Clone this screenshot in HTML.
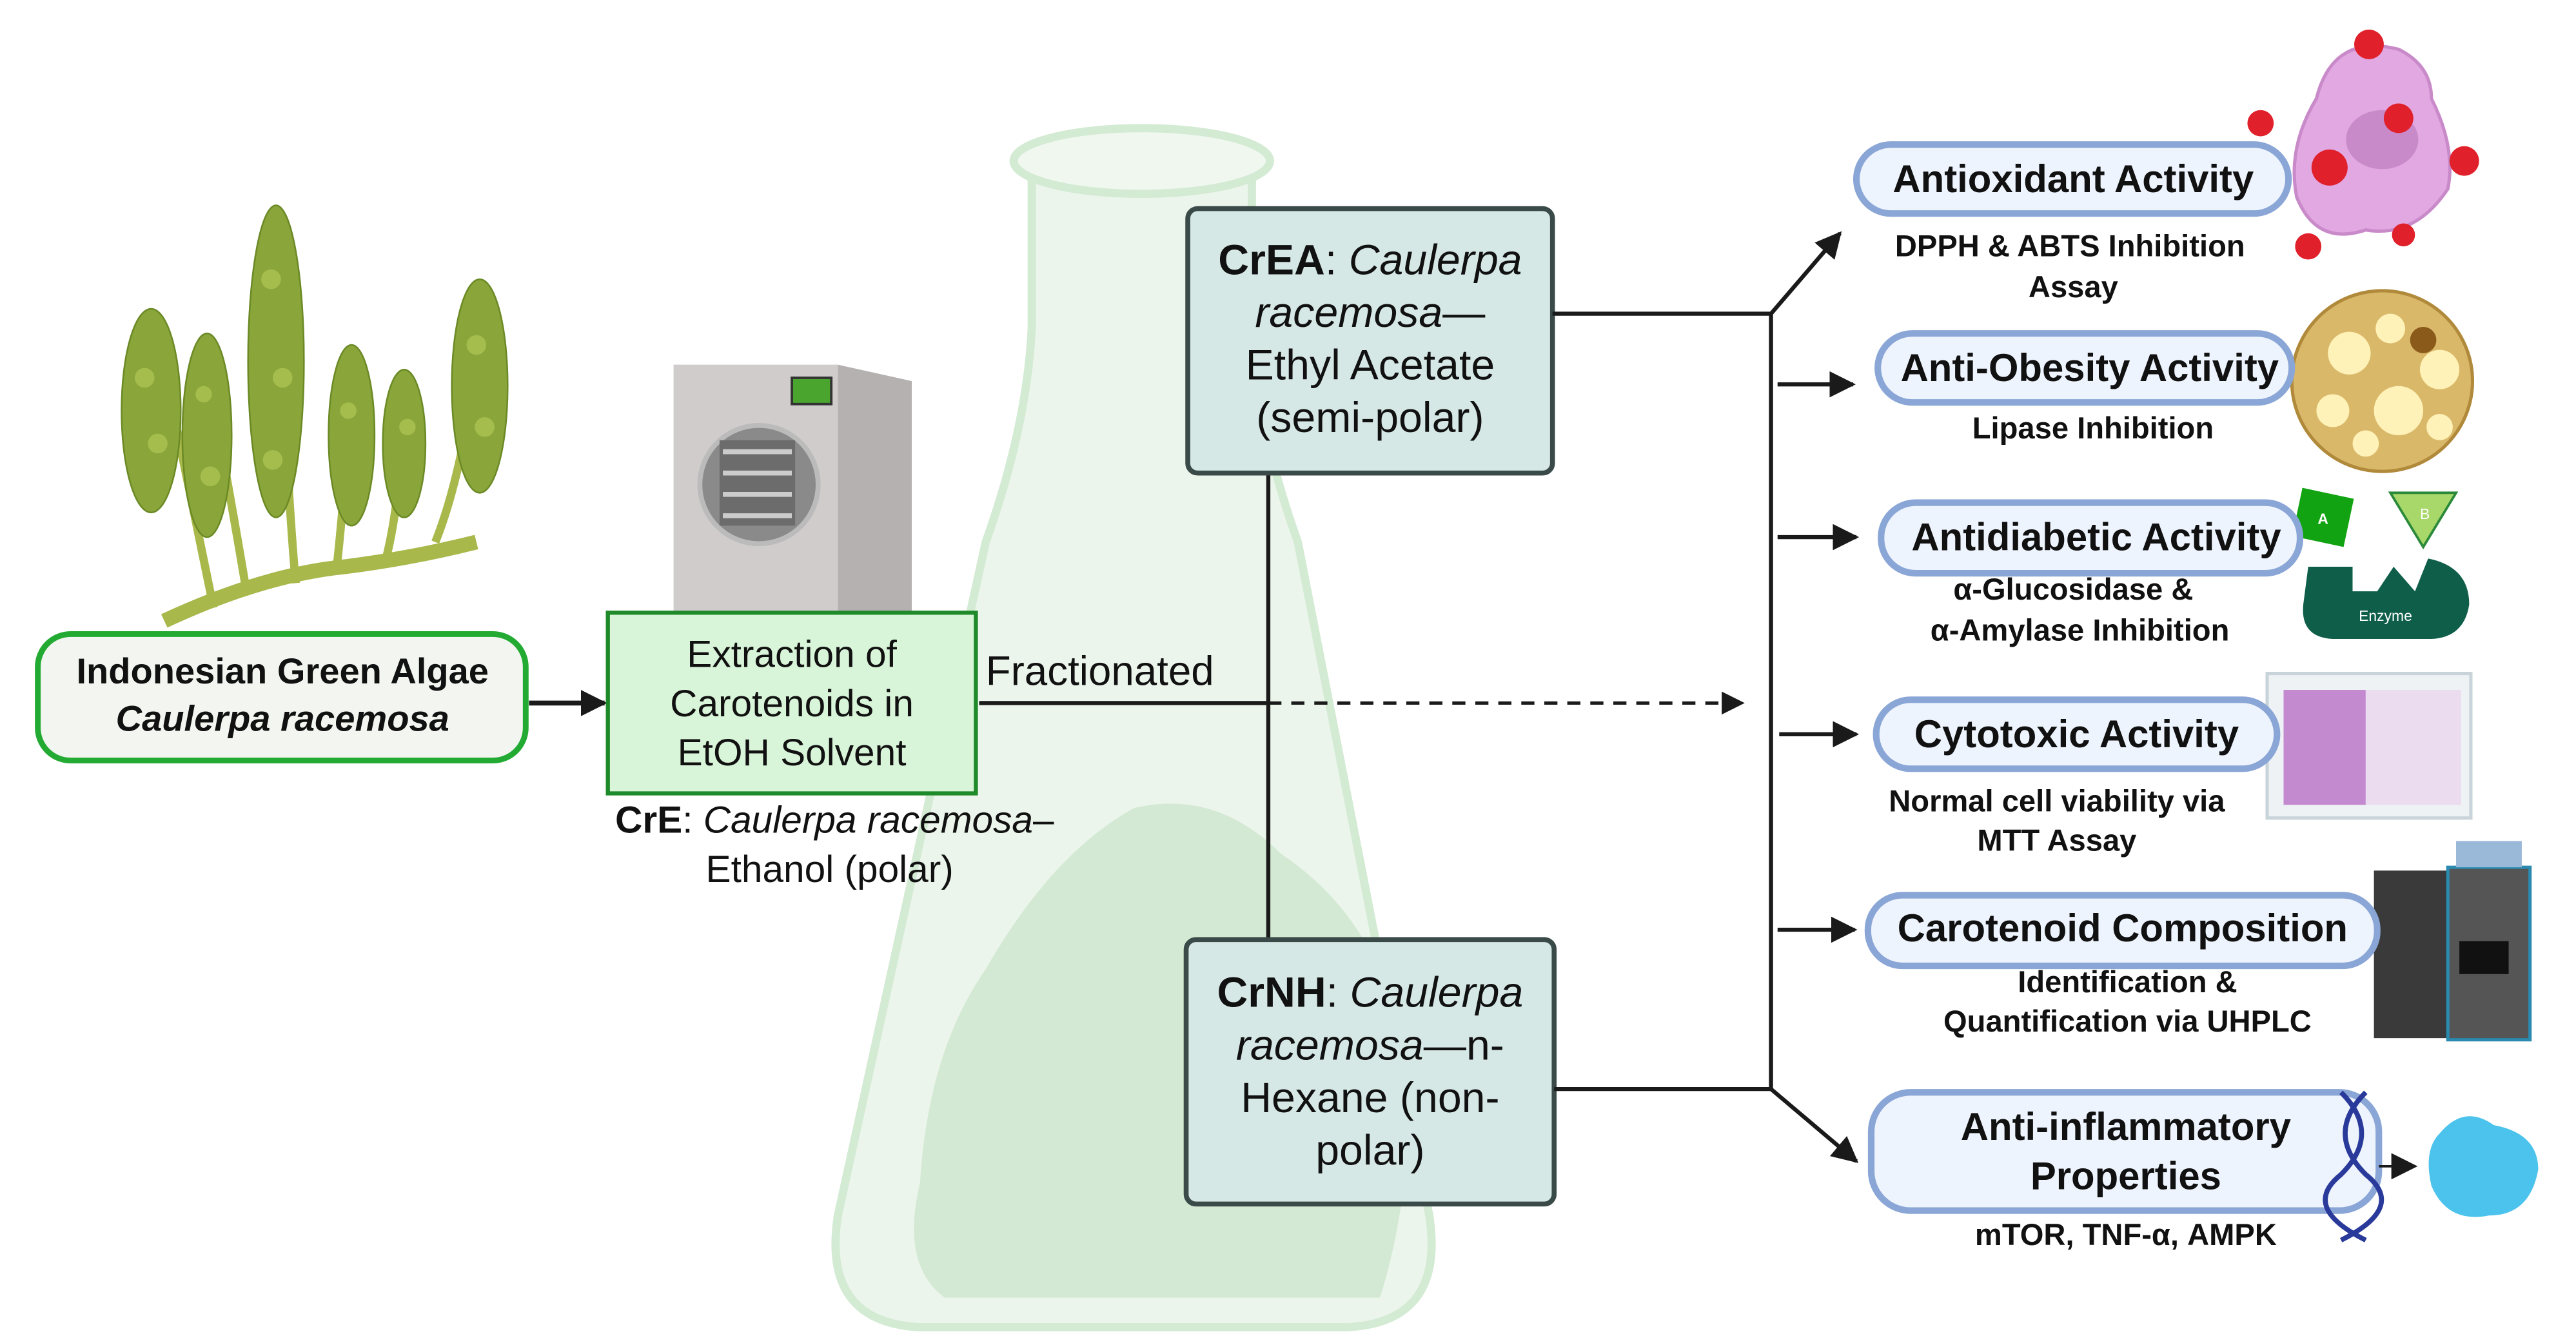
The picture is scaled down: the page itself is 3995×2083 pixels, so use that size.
<!DOCTYPE html>
<html><head><meta charset="utf-8"><style>
html,body{margin:0;padding:0;background:#fff;}
svg{display:block;}
text{font-family:"Liberation Sans","DejaVu Sans",sans-serif;}
</style></head><body>
<svg width="3995" height="2083" viewBox="0 0 1568 817.6" preserveAspectRatio="none" xmlns="http://www.w3.org/2000/svg">
<defs>
<marker id="ah2" viewBox="0 0 10 10" refX="9" refY="5" markerWidth="16" markerHeight="16" orient="auto" markerUnits="userSpaceOnUse"><path d="M0,0 L10,5 L0,10z" fill="#1a1a1a"/></marker>
</defs>
<rect width="1568" height="817.6" fill="#fff"/>

<!-- Flask -->
<g opacity="0.9">
<path d="M628,100 L628,200 Q625,260 600,330 L510,740 Q500,805 560,808 L820,808 Q880,805 870,740 L790,330 Q765,260 762,200 L762,100 Z" fill="#eaf5ea" stroke="#cfe8cf" stroke-width="5"/>
<ellipse cx="695" cy="98" rx="78" ry="20" fill="#eef7ee" stroke="#cfe8cf" stroke-width="5"/>
<path d="M560,720 Q565,640 600,590 Q640,520 690,492 Q740,480 780,520 Q840,560 855,640 Q862,720 840,790 L575,790 Q548,770 560,720Z" fill="#cfe7cf"/>
</g>

<!-- Algae -->
<g>
<path d="M100,378 Q160,350 210,345 Q250,340 290,330" stroke="#a8b84a" stroke-width="9" fill="none"/>
<path d="M180,355 Q175,300 168,150 M130,370 Q120,320 95,200 M150,360 Q140,300 125,220 M205,345 Q210,300 215,220 M235,340 Q245,300 245,240 M265,330 Q285,280 295,180" stroke="#a8b84a" stroke-width="5" fill="none"/>
<g fill="#8aa53a" stroke="#6b8a26" stroke-width="1">
<ellipse cx="92" cy="250" rx="18" ry="62"/>
<ellipse cx="126" cy="265" rx="15" ry="62"/>
<ellipse cx="168" cy="220" rx="17" ry="95"/>
<ellipse cx="214" cy="265" rx="14" ry="55"/>
<ellipse cx="246" cy="270" rx="13" ry="45"/>
<ellipse cx="292" cy="235" rx="17" ry="65"/>
</g>
<g fill="#a5bd4d">
<circle cx="88" cy="230" r="6"/><circle cx="96" cy="270" r="6"/><circle cx="124" cy="240" r="5"/><circle cx="128" cy="290" r="6"/><circle cx="165" cy="170" r="6"/><circle cx="172" cy="230" r="6"/><circle cx="166" cy="280" r="6"/><circle cx="212" cy="250" r="5"/><circle cx="248" cy="260" r="5"/><circle cx="290" cy="210" r="6"/><circle cx="295" cy="260" r="6"/>
</g>
</g>

<!-- Freeze dryer -->
<g>
<rect x="410" y="222" width="100" height="150" fill="#d0cccc"/>
<polygon points="510,222 555,232 555,372 510,372" fill="#b5b1b1"/>
<rect x="482" y="230" width="24" height="16" fill="#4aa52e" stroke="#333" stroke-width="1.5"/>
<circle cx="462" cy="295" r="36" fill="#8a8a8a" stroke="#bbb" stroke-width="3"/>
<rect x="438" y="268" width="46" height="52" fill="#6c6c6c"/>
<g stroke="#ccc" stroke-width="3"><line x1="440" y1="275" x2="482" y2="275"/><line x1="440" y1="288" x2="482" y2="288"/><line x1="440" y1="301" x2="482" y2="301"/><line x1="440" y1="314" x2="482" y2="314"/></g>
</g>

<!-- Algae box -->
<rect x="23" y="386" width="297" height="77" rx="20" fill="#f3f6f0" stroke="#22aa33" stroke-width="3.5"/>
<text x="172" y="416" font-size="22" font-weight="bold" text-anchor="middle" fill="#111">Indonesian Green Algae</text>
<text x="172" y="445" font-size="22" font-weight="bold" font-style="italic" text-anchor="middle" fill="#111">Caulerpa racemosa</text>
<line x1="322" y1="428" x2="368" y2="428" stroke="#1a1a1a" stroke-width="3" marker-end="url(#ah2)"/>

<!-- Extraction box -->
<rect x="370" y="373" width="224" height="110" fill="#d9f5d9" stroke="#1f8a2a" stroke-width="2.5"/>
<text x="482" y="406" font-size="23" text-anchor="middle" fill="#111">Extraction of</text>
<text x="482" y="436" font-size="23" text-anchor="middle" fill="#111">Carotenoids in</text>
<text x="482" y="466" font-size="23" text-anchor="middle" fill="#111">EtOH Solvent</text>
<text x="508" y="507" font-size="23" text-anchor="middle" fill="#111"><tspan font-weight="bold">CrE</tspan>: <tspan font-style="italic">Caulerpa racemosa</tspan>–</text>
<text x="505" y="537" font-size="23" text-anchor="middle" fill="#111">Ethanol (polar)</text>

<text x="600" y="417" font-size="25" fill="#111">Fractionated</text>
<line x1="596" y1="428" x2="772" y2="428" stroke="#1a1a1a" stroke-width="2.5"/>
<line x1="772" y1="428" x2="1048" y2="428" stroke="#1a1a1a" stroke-width="2" stroke-dasharray="8,6"/>
<path d="M1048,421 L1062,428 L1048,435z" fill="#1a1a1a"/>
<line x1="772" y1="288" x2="772" y2="572" stroke="#1a1a1a" stroke-width="2.5"/>

<!-- CrEA -->
<rect x="723" y="127" width="222" height="161" rx="6" fill="#d6e8e6" stroke="#3a4a48" stroke-width="3"/>
<text x="834" y="167" font-size="26" text-anchor="middle" fill="#111"><tspan font-weight="bold">CrEA</tspan>: <tspan font-style="italic">Caulerpa</tspan></text>
<text x="834" y="199" font-size="26" text-anchor="middle" fill="#111" font-style="italic">racemosa<tspan font-style="normal">—</tspan></text>
<text x="834" y="231" font-size="26" text-anchor="middle" fill="#111">Ethyl Acetate</text>
<text x="834" y="263" font-size="26" text-anchor="middle" fill="#111">(semi-polar)</text>

<!-- CrNH -->
<rect x="722" y="572" width="224" height="161" rx="6" fill="#d6e8e6" stroke="#3a4a48" stroke-width="3"/>
<text x="834" y="613" font-size="26" text-anchor="middle" fill="#111"><tspan font-weight="bold">CrNH</tspan>: <tspan font-style="italic">Caulerpa</tspan></text>
<text x="834" y="645" font-size="26" text-anchor="middle" fill="#111"><tspan font-style="italic">racemosa</tspan>—n-</text>
<text x="834" y="677" font-size="26" text-anchor="middle" fill="#111">Hexane (non-</text>
<text x="834" y="709" font-size="26" text-anchor="middle" fill="#111">polar)</text>

<!-- connectors -->
<g stroke="#1a1a1a" stroke-width="2.5" fill="none">
<polyline points="945,191 1078,191 1078,663 946,663"/>
<line x1="1078" y1="191" x2="1120" y2="142" marker-end="url(#ah2)"/>
<line x1="1082" y1="234" x2="1128" y2="234" marker-end="url(#ah2)"/>
<line x1="1082" y1="327" x2="1130" y2="327" marker-end="url(#ah2)"/>
<line x1="1083" y1="447" x2="1130" y2="447" marker-end="url(#ah2)"/>
<line x1="1082" y1="566" x2="1129" y2="566" marker-end="url(#ah2)"/>
<line x1="1078" y1="663" x2="1130" y2="707" marker-end="url(#ah2)"/>
</g>

<!-- Illustrations right -->
<g>
<path d="M1410,60 Q1420,20 1460,30 Q1480,40 1480,60 Q1495,90 1490,115 Q1470,145 1440,140 Q1410,150 1398,120 Q1392,90 1410,60Z" fill="#e2a8e2" stroke="#c98ac9" stroke-width="2"/>
<ellipse cx="1450" cy="85" rx="22" ry="18" fill="#c98ac9"/>
<g fill="#e0202a">
<circle cx="1442" cy="27" r="9"/><circle cx="1376" cy="75" r="8"/><circle cx="1460" cy="72" r="9"/><circle cx="1418" cy="102" r="11"/><circle cx="1500" cy="98" r="9"/><circle cx="1405" cy="150" r="8"/><circle cx="1463" cy="143" r="7"/>
</g>
<ellipse cx="1450" cy="232" rx="55" ry="55" fill="#d9b86a" stroke="#b08a3a" stroke-width="2"/>
<g fill="#fff2b8"><circle cx="1430" cy="215" r="13"/><circle cx="1460" cy="250" r="15"/><circle cx="1485" cy="225" r="12"/><circle cx="1420" cy="250" r="10"/><circle cx="1455" cy="200" r="9"/><circle cx="1485" cy="260" r="8"/><circle cx="1440" cy="270" r="8"/></g>
<circle cx="1475" cy="207" r="8" fill="#8a5a1a"/>
<rect x="1398" y="300" width="32" height="30" fill="#12a312" transform="rotate(12 1414 315)"/>
<text x="1414" y="319" font-size="9" font-weight="bold" fill="#fff" text-anchor="middle">A</text>
<polygon points="1455,300 1495,300 1475,333" fill="#a9d86a" stroke="#2b8a3a" stroke-width="1.5"/>
<text x="1476" y="316" font-size="9" fill="#fff" text-anchor="middle">B</text>
<path d="M1405,345 L1432,345 L1432,360 L1447,360 L1457,345 L1470,360 L1478,340 Q1503,345 1503,368 Q1500,388 1480,389 L1420,389 Q1400,388 1402,368Z" fill="#0f5e4a"/>
<text x="1452" y="378" font-size="9" fill="#fff" text-anchor="middle">Enzyme</text>
<rect x="1380" y="410" width="124" height="88" fill="#eef2f4" stroke="#c8d4da" stroke-width="2"/>
<rect x="1390" y="420" width="50" height="70" fill="#c48ad0"/>
<rect x="1440" y="420" width="58" height="70" fill="#ebdcef"/>
<rect x="1445" y="530" width="45" height="102" fill="#3a3a3a"/>
<rect x="1490" y="528" width="50" height="105" fill="#555" stroke="#2a8ab0" stroke-width="2"/>
<rect x="1497" y="573" width="30" height="20" fill="#111"/>
<rect x="1495" y="512" width="40" height="16" fill="#9ab8d8"/>
<path d="M1485,690 Q1500,672 1518,685 Q1545,690 1545,712 Q1540,740 1515,740 Q1490,745 1480,722 Q1475,700 1485,690Z" fill="#4cc3ec"/>
</g>

<!-- Right boxes -->
<g stroke="#8aa6d6" stroke-width="4" fill="#eef4fd">
<rect x="1130" y="88" width="263" height="42" rx="21"/>
<rect x="1143" y="203" width="252" height="42" rx="21"/>
<rect x="1145" y="306" width="255" height="43" rx="21"/>
<rect x="1142" y="426" width="244" height="42" rx="21"/>
<rect x="1137" y="545" width="310" height="43" rx="21"/>
<rect x="1139" y="665" width="309" height="72" rx="24"/>
</g>
<path d="M1425,665 Q1450,690 1425,715 Q1400,735 1440,755 M1440,665 Q1415,690 1440,715 Q1465,735 1425,755" stroke="#2a3a9a" stroke-width="3" fill="none"/>
<line x1="1448" y1="710" x2="1470" y2="710" stroke="#1a1a1a" stroke-width="1.5" marker-end="url(#ah2)"/>
<g font-weight="bold" fill="#111" text-anchor="middle">
<text x="1262" y="117" font-size="23.5">Antioxidant Activity</text>
<text x="1260" y="156" font-size="18.5">DPPH &amp; ABTS Inhibition</text>
<text x="1262" y="181" font-size="18.5">Assay</text>
<text x="1272" y="232" font-size="23.5">Anti-Obesity Activity</text>
<text x="1274" y="267" font-size="18.5">Lipase  Inhibition</text>
<text x="1276" y="335" font-size="23.5">Antidiabetic Activity</text>
<text x="1262" y="365" font-size="18.5">α-Glucosidase &amp;</text>
<text x="1266" y="390" font-size="18.5">α-Amylase Inhibition</text>
<text x="1264" y="455" font-size="23.5">Cytotoxic Activity</text>
<text x="1252" y="494" font-size="18.5">Normal cell viability via</text>
<text x="1252" y="518" font-size="18.5">MTT Assay</text>
<text x="1292" y="573" font-size="23.5">Carotenoid Composition</text>
<text x="1295" y="604" font-size="18.5">Identification &amp;</text>
<text x="1295" y="628" font-size="18.5">Quantification via UHPLC</text>
<text x="1294" y="694" font-size="23.5">Anti-inflammatory</text>
<text x="1294" y="724" font-size="23.5">Properties</text>
<text x="1294" y="758" font-size="18.5">mTOR, TNF-α, AMPK</text>
</g>
</svg>
</body></html>
